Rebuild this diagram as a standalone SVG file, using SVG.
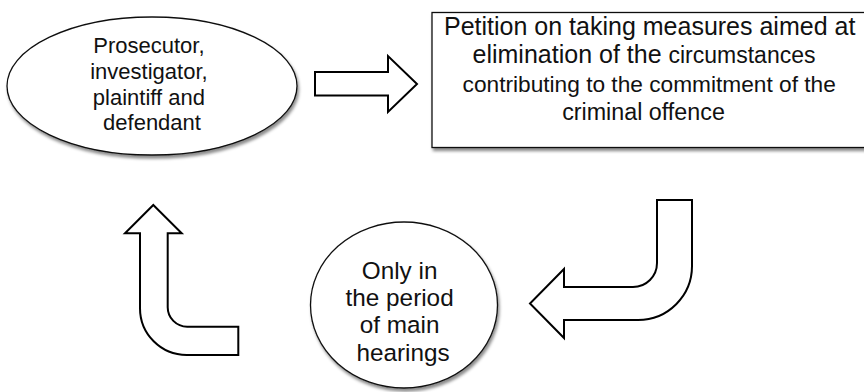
<svg xmlns="http://www.w3.org/2000/svg" width="864" height="392" viewBox="0 0 864 392">
  <defs>
    <filter id="shadow" x="-10%" y="-10%" width="125%" height="130%">
      <feDropShadow dx="1.5" dy="3" stdDeviation="1.6" flood-color="#000" flood-opacity="0.45"/>
    </filter>
  </defs>
  <style>
    .shape { fill: #fff; stroke: #111; stroke-width: 1.3; filter: url(#shadow); }
    .arrow { fill: #fff; stroke: #000; stroke-width: 2; stroke-linejoin: miter; }
    text { font-family: "Liberation Sans", Arial, sans-serif; fill: #111; text-anchor: middle; }
  </style>
  <rect width="864" height="392" fill="#fff"/>

  <g id="participants">
    <ellipse class="shape" cx="152" cy="86" rx="145" ry="69"/>
    <text font-size="22">
      <tspan x="152" y="53">Prosecutor,</tspan>
      <tspan x="152" y="79">investigator,</tspan>
      <tspan x="152" y="104.5">plaintiff and</tspan>
      <tspan x="152" y="130">defendant</tspan>
    </text>
  </g>

  <g id="petition">
    <rect class="shape" x="432" y="12.5" width="444" height="135" stroke="#333"/>
    <text font-size="25" x="649.7" y="34.5">Petition on taking measures aimed at</text>
    <text x="644" y="63.3"><tspan font-size="25">elimination of the </tspan><tspan font-size="23">circumstances</tspan></text>
    <text font-size="22.7" x="649.2" y="91.7">contributing to the commitment of the</text>
    <text font-size="23.3" x="643.5" y="120">criminal offence</text>
  </g>

  <g id="main-hearings">
    <ellipse class="shape" cx="404" cy="305" rx="93.5" ry="83"/>
    <text font-size="24.3">
      <tspan x="403" y="278.7">Only in</tspan>
      <tspan x="403" y="306">the period</tspan>
      <tspan x="403" y="333.3">of main</tspan>
      <tspan x="403" y="360.7">hearings</tspan>
    </text>
  </g>

  <g id="connectors">
    <!-- straight arrow: participants to petition -->
    <path class="arrow" d="M315,72 L388,72 L388,56 L417,84 L388,112 L388,95.5 L315,95.5 Z"/>
    <!-- bent arrow: petition down to main hearings -->
    <path class="arrow" d="M657,200 L692,200 L692,266 A54,54 0 0 1 638,320 L564,320 L564,338 L530,303.5 L564,269 L564,287 L633,287 A24,24 0 0 0 657,263 Z"/>
    <!-- bent arrow: back up towards participants -->
    <path class="arrow" d="M153.3,205 L181.7,233.3 L167.7,233.3 L167.7,307 A19.5,19.5 0 0 0 187.2,326.7 L238.3,326.7 L238.3,355 L186.7,355 A46.7,46.7 0 0 1 140,308.3 L140,233.3 L125,233.3 Z"/>
  </g>
</svg>
